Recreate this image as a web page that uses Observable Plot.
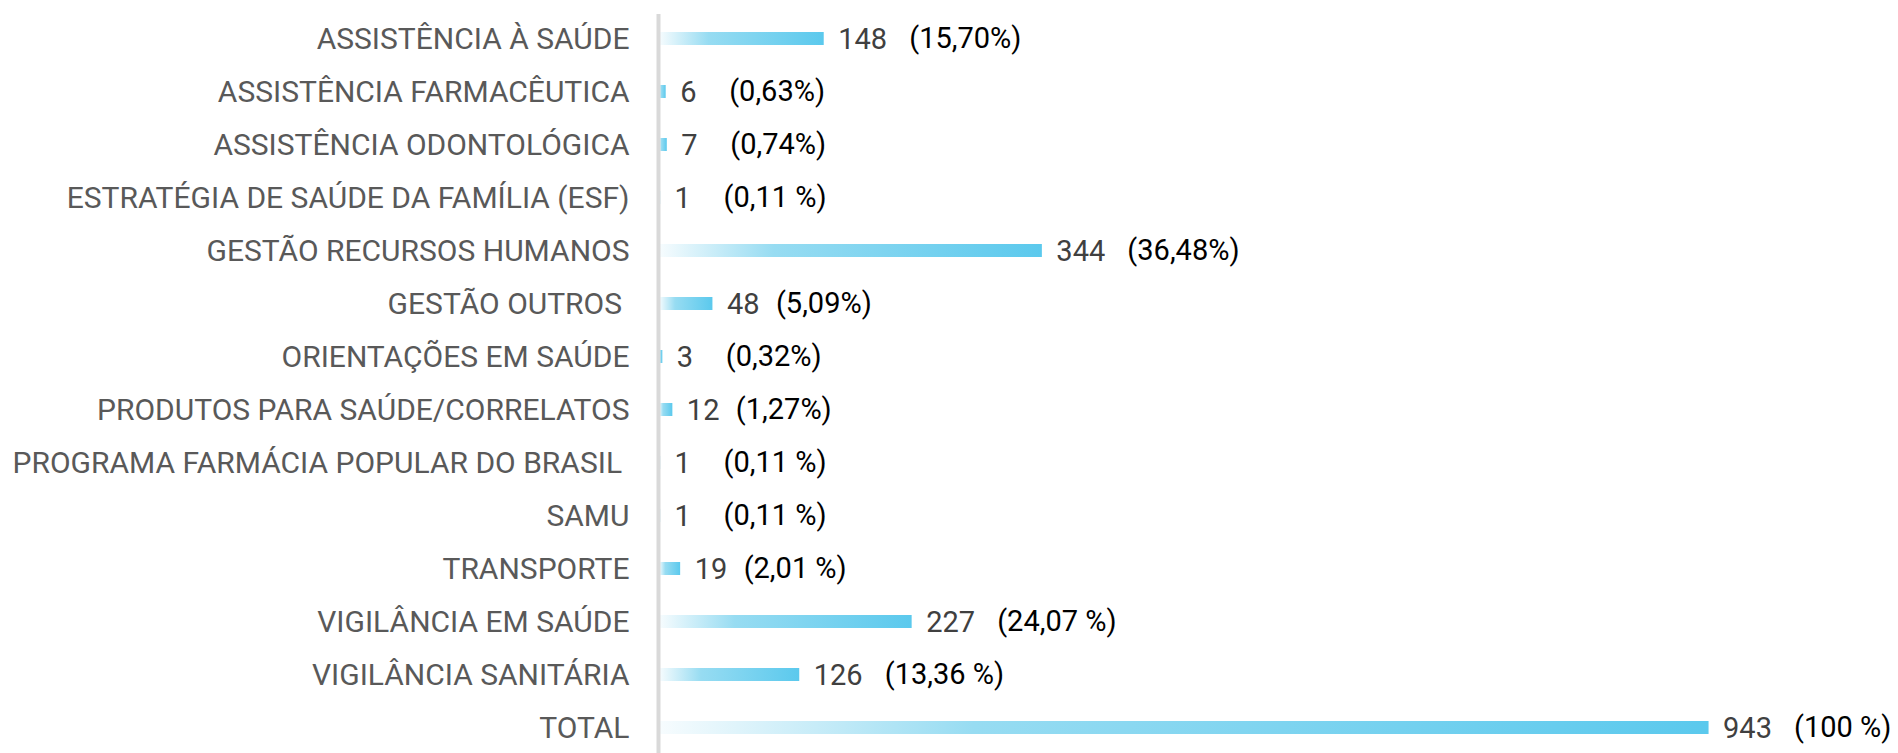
<!DOCTYPE html>
<html>
<head>
<meta charset="utf-8">
<script src="https://cdn.jsdelivr.net/npm/d3@7"></script>
<script src="https://cdn.jsdelivr.net/npm/@observablehq/plot@0.6"></script>
<style>
  html, body { margin: 0; padding: 0; background: #ffffff; }
  #chart svg { display: block; }
</style>
</head>
<body>
<div id="chart"></div>
<script>
const categories = [
  "ASSISTÊNCIA À SAÚDE",
  "ASSISTÊNCIA FARMACÊUTICA",
  "ASSISTÊNCIA ODONTOLÓGICA",
  "ESTRATÉGIA DE SAÚDE DA FAMÍLIA (ESF)",
  "GESTÃO RECURSOS HUMANOS",
  "GESTÃO OUTROS\u00a0",
  "ORIENTAÇÕES EM SAÚDE",
  "PRODUTOS PARA SAÚDE/CORRELATOS",
  "PROGRAMA FARMÁCIA POPULAR DO BRASIL\u00a0",
  "SAMU",
  "TRANSPORTE",
  "VIGILÂNCIA EM SAÚDE",
  "VIGILÂNCIA SANITÁRIA",
  "TOTAL"
];
const values = [148, 6, 7, 1, 344, 48, 3, 12, 1, 1, 19, 227, 126, 943];
const percentLabels = [
  "(15,70%)", "(0,63%)", "(0,74%)", "(0,11 %)", "(36,48%)", "(5,09%)", "(0,32%)",
  "(1,27%)", "(0,11 %)", "(0,11 %)", "(2,01 %)", "(24,07 %)", "(13,36 %)", "(100 %)"
];

const rows = categories.map((c, i) => ({category: c, value: values[i], pct: percentLabels[i]}));

const FONT = "Roboto, 'Liberation Sans', Arial, sans-serif";

const chart = Plot.plot({
  width: 1898,
  height: 753,
  marginLeft: 659,
  marginRight: 126,
  marginTop: 14,
  marginBottom: 0,
  style: {fontFamily: FONT, fontSize: "30px", color: "#595959", background: "#ffffff"},
  x: {domain: [0, 1000], axis: null},
  y: {domain: categories, label: null, tickSize: 0, tickPadding: 30, paddingInner: 0.75, paddingOuter: 0.3},
  marks: [
    Plot.barX(rows, {x: "value", y: "category", fill: "url(#barGrad)"}),
    Plot.ruleX([0], {stroke: "#d9d9d9", strokeWidth: 4, dx: -1}),
    Plot.text(rows, {x: "value", y: "category", text: d => String(d.value), textAnchor: "start", dx: 14, dy: 1, fill: "#404040", fontSize: 29}),
    Plot.text(rows.filter(d => d.value < 100), {x: "value", y: "category", text: "pct", textAnchor: "start", dx: 63, dy: 0, fill: "#000000", fontSize: 29}),
    Plot.text(rows.filter(d => d.value >= 100), {x: "value", y: "category", text: "pct", textAnchor: "start", dx: 85, dy: 0, fill: "#000000", fontSize: 29})
  ]
});

const svg = d3.select(chart);
const defs = svg.insert("defs", ":first-child");
const grad = defs.append("linearGradient").attr("id", "barGrad").attr("x1", "0").attr("x2", "1").attr("y1", "0").attr("y2", "0");
grad.append("stop").attr("offset", "0").attr("stop-color", "#f7fcfe");
grad.append("stop").attr("offset", "0.3").attr("stop-color", "#97dcf2");
grad.append("stop").attr("offset", "1").attr("stop-color", "#5bc9ed");

document.getElementById("chart").appendChild(chart);
</script>
</body>
</html>
